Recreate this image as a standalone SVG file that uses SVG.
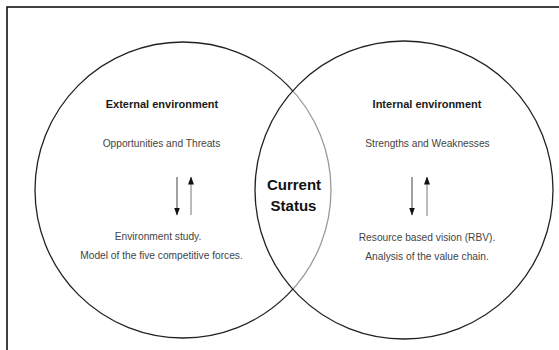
<svg xmlns="http://www.w3.org/2000/svg" width="559" height="350" viewBox="0 0 559 350">
  <style>
    .frame { fill: none; stroke: #111; stroke-width: 1.6; }
    .circle { stroke: #222; stroke-width: 1.3; }
    .title { font-family: "Liberation Sans", Arial, sans-serif; font-size: 11px; font-weight: bold; fill: #1a1a1a; text-anchor: middle; }
    .body { font-family: "Liberation Sans", Arial, sans-serif; font-size: 10.2px; fill: #444; text-anchor: middle; }
    .center { font-family: "Liberation Sans", Arial, sans-serif; font-size: 15px; font-weight: bold; fill: #111; text-anchor: middle; }
    .down { stroke: #444; stroke-width: 1; fill: none; }
    .up { stroke: #777; stroke-width: 1; fill: none; }
  </style>
  <defs>
    <marker id="tip" viewBox="0 0 8 6" refX="7.5" refY="3" markerWidth="8" markerHeight="6" orient="auto" markerUnits="userSpaceOnUse">
      <path d="M0,0 L8,3 L0,6 Z" fill="#111"/>
    </marker>
  </defs>
  <rect width="559" height="350" fill="#fff"/>
  <rect class="frame" x="7" y="7" width="570" height="370"/>

  <g id="external-environment">
    <circle class="circle" cx="183" cy="190" r="148" fill="#fff"/>
    <text class="title" x="162" y="108">External environment</text>
    <text class="body" x="161.5" y="146.5">Opportunities and Threats</text>
    <text class="body" x="158" y="240">Environment study.</text>
    <text class="body" x="161.5" y="259">Model of the five competitive forces.</text>
  </g>

  <g id="internal-environment">
    <circle class="circle" cx="404" cy="190" r="149" fill="#fff" fill-opacity="0.55"/>
    <text class="title" x="427" y="108">Internal environment</text>
    <text class="body" x="427.5" y="146.5">Strengths and Weaknesses</text>
    <text class="body" x="427" y="241">Resource based vision (RBV).</text>
    <text class="body" x="427" y="260">Analysis of the value chain.</text>
  </g>

  <g id="current-status">
    <text class="center" x="294" y="190">Current</text>
    <text class="center" x="293.5" y="211">Status</text>
  </g>

  <g id="connectors">
    <line class="down" x1="177" y1="177" x2="177" y2="215" marker-end="url(#tip)"/>
    <line class="up" x1="191" y1="215" x2="191" y2="177" marker-end="url(#tip)"/>
    <line class="down" x1="412" y1="177" x2="412" y2="215" marker-end="url(#tip)"/>
    <line class="up" x1="427" y1="216" x2="427" y2="177" marker-end="url(#tip)"/>
  </g>
</svg>
